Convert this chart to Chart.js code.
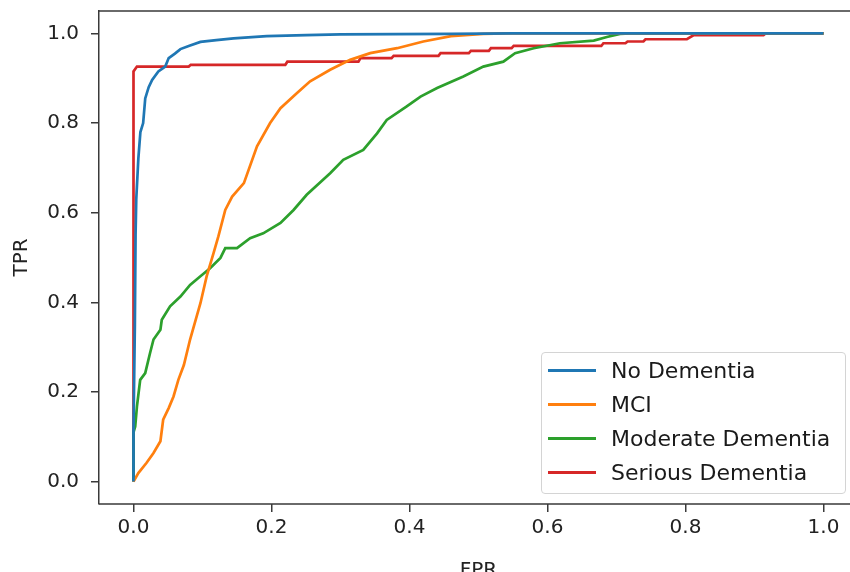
<!DOCTYPE html>
<html>
<head>
<meta charset="utf-8">
<title>ROC curves</title>
<script src="https://cdn.jsdelivr.net/npm/chart.js@4/dist/chart.umd.min.js"></script>
<style>
    html, body { margin: 0; padding: 0; background: #fff; overflow: hidden; }
    body { width: 850px; height: 572px; position: relative; }
    #rocChart { position: absolute; left: 0; top: 0; }
    #legend {
        position: absolute; left: 541px; top: 352px; width: 303px; height: 140px;
        border: 1px solid #d4d4d4; border-radius: 4px; background: rgba(255,255,255,0.85);
        font-family: 'DejaVu Sans', sans-serif; font-size: 22px; color: #1a1a1a;
    }
    #legend .row { position: absolute; left: 0; height: 34px; display: flex; align-items: center; white-space: nowrap; }
    #legend .swatch { width: 48px; height: 3px; margin-left: 6px; margin-right: 15px; }
</style>
</head>
<body>
<canvas id="rocChart" width="900" height="600"></canvas>
<div id="legend"></div>

<script>
// series names + colours (matplotlib tab10)
const seriesNames = ['No Dementia', 'MCI', 'Moderate Dementia', 'Serious Dementia'];
const seriesColors = ['#1f77b4', '#ff7f0e', '#2ca02c', '#d62728'];

// tick labels
const xTicks = [0.0, 0.2, 0.4, 0.6, 0.8, 1.0];
const yTicks = [0.0, 0.2, 0.4, 0.6, 0.8, 1.0];

// No Dementia
const noDemFpr = [0, 0, 0.002, 0.003, 0.004, 0.007, 0.010, 0.014, 0.017, 0.022, 0.027, 0.036, 0.046, 0.051, 0.060, 0.068, 0.080, 0.097, 0.120, 0.145, 0.193, 0.250, 0.300, 0.460, 0.550, 1.0];
const noDemTpr = [0, 0.12, 0.35, 0.55, 0.63, 0.72, 0.78, 0.80, 0.855, 0.88, 0.896, 0.915, 0.926, 0.945, 0.955, 0.965, 0.972, 0.981, 0.985, 0.989, 0.994, 0.996, 0.998, 0.999, 1.0, 1.0];

// MCI
const mciFpr = [0, 0.007, 0.019, 0.029, 0.039, 0.043, 0.051, 0.058, 0.065, 0.073, 0.082, 0.090, 0.097, 0.106, 0.116, 0.123, 0.133, 0.143, 0.160, 0.179, 0.198, 0.213, 0.237, 0.256, 0.285, 0.314, 0.343, 0.382, 0.420, 0.460, 0.507, 0.540, 1.0];
const mciTpr = [0, 0.019, 0.042, 0.064, 0.090, 0.138, 0.164, 0.190, 0.227, 0.260, 0.317, 0.360, 0.398, 0.458, 0.510, 0.547, 0.606, 0.636, 0.666, 0.748, 0.800, 0.833, 0.867, 0.893, 0.919, 0.941, 0.956, 0.967, 0.982, 0.994, 0.999, 1.0, 1.0];

// Moderate Dementia
const modDemFpr = [0, 0, 0.0025, 0.005, 0.0097, 0.017, 0.024, 0.029, 0.039, 0.041, 0.053, 0.068, 0.082, 0.097, 0.111, 0.126, 0.133, 0.150, 0.169, 0.188, 0.213, 0.232, 0.251, 0.285, 0.304, 0.333, 0.353, 0.367, 0.396, 0.416, 0.440, 0.478, 0.507, 0.536, 0.553, 0.580, 0.618, 0.667, 0.686, 0.705, 0.720, 1.0];
const modDemTpr = [0, 0.11, 0.123, 0.168, 0.227, 0.242, 0.287, 0.317, 0.339, 0.361, 0.391, 0.413, 0.439, 0.458, 0.476, 0.499, 0.521, 0.521, 0.543, 0.554, 0.577, 0.606, 0.640, 0.688, 0.718, 0.740, 0.777, 0.807, 0.837, 0.859, 0.878, 0.904, 0.926, 0.937, 0.956, 0.967, 0.978, 0.984, 0.992, 0.999, 1.0, 1.0];

// Serious Dementia
const serDemFpr = [0, 0, 0.005, 0.080, 0.083, 0.220, 0.223, 0.326, 0.329, 0.374, 0.377, 0.442, 0.445, 0.486, 0.489, 0.515, 0.518, 0.548, 0.551, 0.678, 0.681, 0.713, 0.716, 0.739, 0.742, 0.802, 0.812, 0.913, 0.916, 1.0];
const serDemTpr = [0, 0.915, 0.926, 0.926, 0.930, 0.930, 0.937, 0.937, 0.945, 0.945, 0.950, 0.950, 0.956, 0.956, 0.961, 0.961, 0.967, 0.967, 0.972, 0.972, 0.978, 0.978, 0.982, 0.982, 0.987, 0.987, 0.996, 0.996, 1.0, 1.0];

const fprs = [noDemFpr, mciFpr, modDemFpr, serDemFpr];
const tprs = [noDemTpr, mciTpr, modDemTpr, serDemTpr];

const FONT = "'DejaVu Sans', sans-serif";
const AXIS_COLOR = '#3a3a3a';

// top + bottom spine, running on past the right edge of the picture
const framePlugin = {
    id: 'frame',
    afterDraw(chart) {
        const a = chart.chartArea;
        const c = chart.ctx;
        c.save();
        c.strokeStyle = AXIS_COLOR;
        c.lineWidth = 1.5;
        c.beginPath();
        c.moveTo(a.left, a.top);
        c.lineTo(chart.width, a.top);
        c.moveTo(a.left, a.bottom);
        c.lineTo(chart.width, a.bottom);
        c.stroke();
        c.restore();
    }
};

document.addEventListener('DOMContentLoaded', function() {
    const datasets = seriesNames.map(function(name, i) {
        return {
            label: name,
            data: fprs[i].map(function(x, j) { return { x: x, y: tprs[i][j] }; }),
            borderColor: seriesColors[i],
            backgroundColor: seriesColors[i],
            borderWidth: 2.7,
            pointRadius: 0,
            showLine: true,
            fill: false,
            tension: 0
        };
    });

    const ctx = document.getElementById('rocChart').getContext('2d');
    const rocChart = new Chart(ctx, {
        type: 'scatter',
        data: { datasets: datasets },
        options: {
            responsive: false,
            animation: false,
            layout: { padding: { left: 0, top: 11, right: 42, bottom: 0 } },
            plugins: {
                legend: { display: false },
                tooltip: { enabled: false }
            },
            scales: {
                x: {
                    type: 'linear',
                    min: -0.05,
                    max: 1.05,
                    afterBuildTicks: function(scale) {
                        scale.ticks = xTicks.map(function(v) { return { value: v }; });
                    },
                    afterFit: function(scale) {
                        scale.height = 96;
                        scale.paddingLeft = 0;
                        scale.paddingRight = 0;
                    },
                    ticks: {
                        font: { family: FONT, size: 20 },
                        color: '#222',
                        padding: 4,
                        maxRotation: 0,
                        callback: function(v) { return v.toFixed(1); }
                    },
                    grid: { drawOnChartArea: false, drawTicks: true, tickLength: 8, color: AXIS_COLOR, lineWidth: 1.5 },
                    border: { display: false },
                    title: { display: true, text: 'FPR', color: '#222', font: { family: FONT, size: 20 }, padding: { top: 0, bottom: 17 } }
                },
                y: {
                    type: 'linear',
                    min: -0.05,
                    max: 1.05,
                    afterBuildTicks: function(scale) {
                        scale.ticks = yTicks.map(function(v) { return { value: v }; });
                    },
                    afterFit: function(scale) {
                        scale.width = 99;
                        scale.paddingTop = 0;
                        scale.paddingBottom = 0;
                    },
                    ticks: {
                        font: { family: FONT, size: 20 },
                        color: '#222',
                        padding: 12,
                        callback: function(v) { return v.toFixed(1); }
                    },
                    grid: { drawOnChartArea: false, drawTicks: true, tickLength: 8, color: AXIS_COLOR, lineWidth: 1.5 },
                    border: { display: true, color: AXIS_COLOR, width: 1.5 },
                    title: { display: true, text: 'TPR', color: '#222', font: { family: FONT, size: 20 }, padding: { top: 10, bottom: 0 } }
                }
            }
        },
        plugins: [framePlugin]
    });

    // legend inside the axes, lower right
    const legendBox = document.getElementById('legend');
    rocChart.data.datasets.forEach(function(ds, i) {
        const row = document.createElement('div');
        row.className = 'row';
        row.style.top = (i * 34) + 'px';
        const sw = document.createElement('span');
        sw.className = 'swatch';
        sw.style.background = ds.borderColor;
        const txt = document.createElement('span');
        txt.textContent = ds.label;
        row.appendChild(sw);
        row.appendChild(txt);
        legendBox.appendChild(row);
    });
});
</script>
</body>
</html>
